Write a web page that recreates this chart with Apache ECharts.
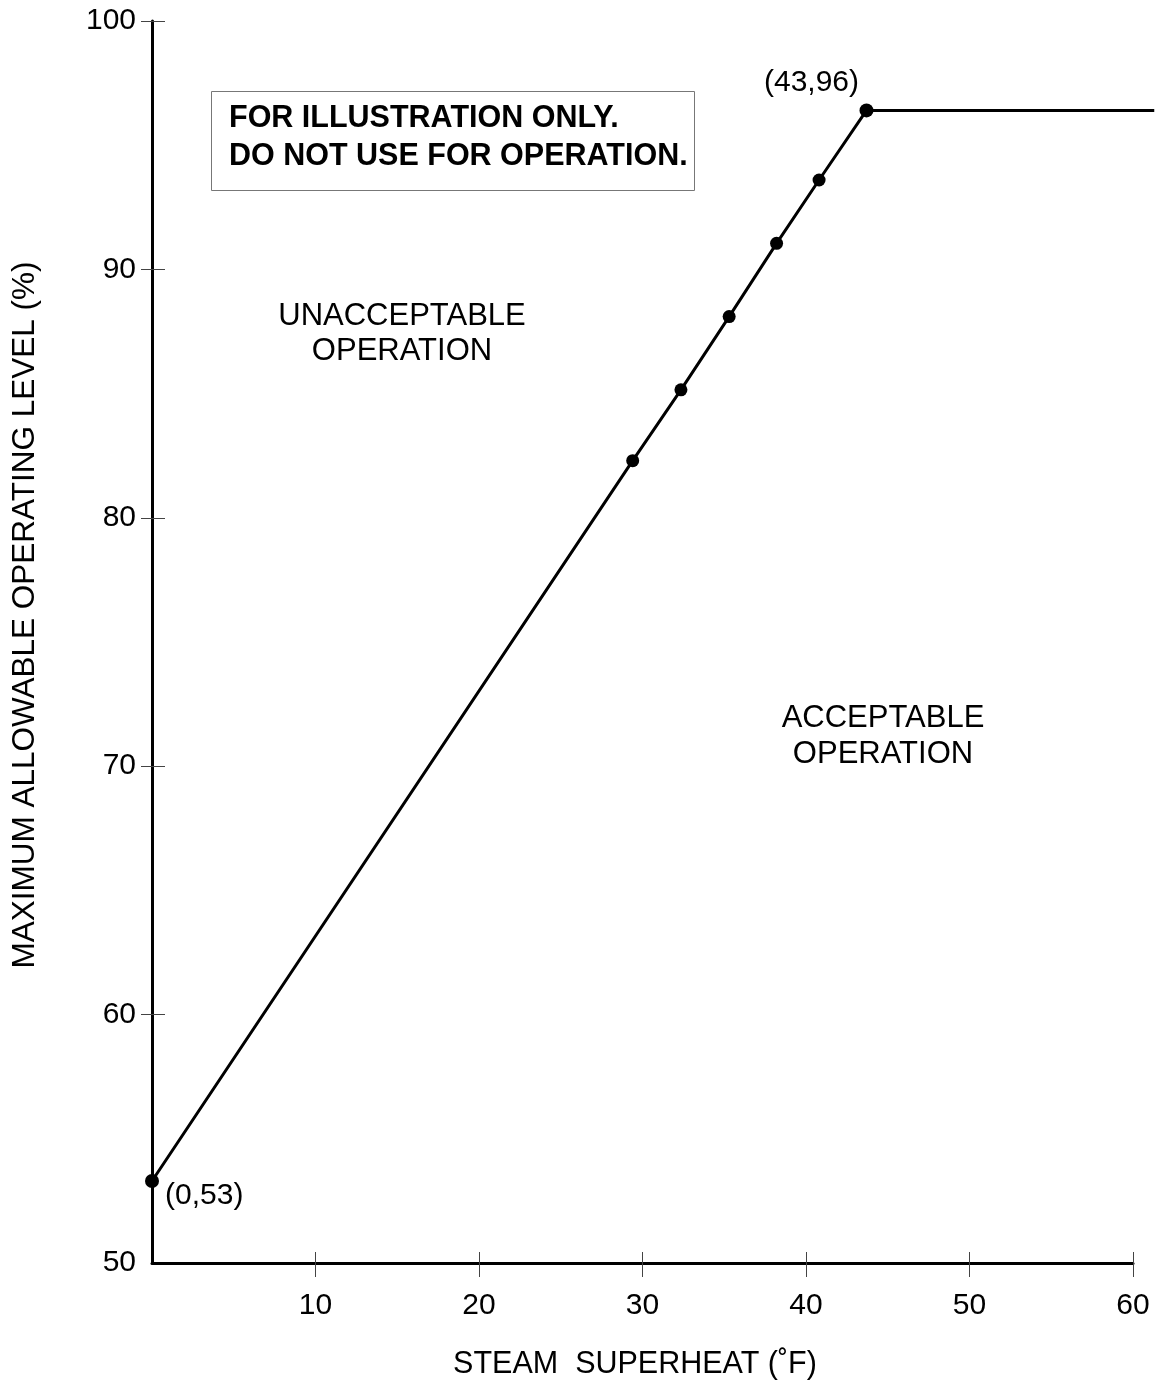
<!DOCTYPE html>
<html>
<head>
<meta charset="utf-8">
<script src="https://cdn.jsdelivr.net/npm/echarts@6/dist/echarts.min.js"></script>
<style>
html,body{margin:0;padding:0;background:#fff;}
#chart{width:1155px;height:1389px;}
</style>
</head>
<body>
<div id="chart"></div>
<script>
// Data
const superheat = [0, 29.4, 32.35, 35.3, 38.2, 40.8, 43.7, 61.3];
const level = [53.3, 82.3, 85.15, 88.1, 91.05, 93.6, 96.4, 96.4];
const pointLabels = ['(0,53)', '', '', '', '', '', '(43,96)', ''];
const xTicks = [0, 10, 20, 30, 40, 50, 60];
const yTicks = [50, 60, 70, 80, 90, 100];
const xTitle = 'STEAM  SUPERHEAT (\u02DAF)';
const yTitle = 'MAXIMUM ALLOWABLE OPERATING LEVEL (%)';
const noteLines = ['FOR ILLUSTRATION ONLY.', 'DO NOT USE FOR OPERATION.'];
const regionUnacceptable = ['UNACCEPTABLE', 'OPERATION'];
const regionAcceptable = ['ACCEPTABLE', 'OPERATION'];

const FONT = '"Liberation Sans", Arial, sans-serif';
const chart = echarts.init(document.getElementById('chart'));

// layout
const GL = 152, GR = 22, GT = 21, GB = 126, W = 1155;
const xMin = xTicks[0], xMax = xTicks[xTicks.length - 1];
const yMin = yTicks[0], yMax = yTicks[yTicks.length - 1];
// second (hidden) grid spans to the page edge with the same scale, so the plateau line runs off the plot
const xMaxWide = xMax * (W - GL) / (W - GR - GL);

const seriesData = superheat.map((x, i) => {
  const item = { value: [x, level[i]] };
  if (i === superheat.length - 1) item.symbol = 'none';
  if (i === 0 || i === superheat.length - 2) item.symbolSize = 14;
  if (pointLabels[i]) {
    item.label = i === 0
      ? { show: true, formatter: pointLabels[i], position: 'right', offset: [1, 15] }
      : { show: true, formatter: pointLabels[i], position: 'top', offset: [-55, -1] };
  }
  return item;
});

const xTickVals = xTicks.filter(v => v !== xMin);
const yTickVals = yTicks.filter(v => v !== yMin);

const baseX = {
  type: 'value', min: xMin, max: xMax, interval: 10, position: 'bottom',
  splitLine: { show: false }
};
const baseY = {
  type: 'value', min: yMin, max: yMax, interval: 10, position: 'left',
  splitLine: { show: false }
};

chart.setOption({
  animation: false,
  backgroundColor: '#fff',
  grid: [
    { left: GL, right: GR, top: GT, bottom: GB },
    { left: GL, right: 0, top: GT, bottom: GB }
  ],
  xAxis: [
    Object.assign({}, baseX, {
      axisLine: { show: true, onZero: false, lineStyle: { color: '#000', width: 3 } },
      axisTick: { show: true, inside: false, length: 14, customValues: xTickVals, lineStyle: { color: '#444', width: 1 } },
      axisLabel: { show: true, margin: 28, fontFamily: FONT, fontSize: 30, color: '#000', customValues: xTickVals }
    }),
    Object.assign({}, baseX, {
      axisLine: { show: false, onZero: false },
      axisTick: { show: true, inside: true, length: 11, customValues: xTickVals, lineStyle: { color: '#444', width: 1 } },
      axisLabel: { show: false }
    }),
    { type: 'value', gridIndex: 1, min: xMin, max: xMaxWide, show: false }
  ],
  yAxis: [
    Object.assign({}, baseY, {
      axisLine: { show: true, onZero: false, lineStyle: { color: '#000', width: 3 } },
      axisTick: { show: true, inside: false, length: 11, customValues: yTickVals, lineStyle: { color: '#444', width: 1 } },
      axisLabel: { show: true, margin: 16, fontFamily: FONT, fontSize: 30, color: '#000' }
    }),
    Object.assign({}, baseY, {
      axisLine: { show: false, onZero: false },
      axisTick: { show: true, inside: true, length: 13, customValues: yTickVals, lineStyle: { color: '#444', width: 1 } },
      axisLabel: { show: false }
    }),
    { type: 'value', gridIndex: 1, min: yMin, max: yMax, show: false }
  ],
  series: [{
    type: 'line',
    xAxisIndex: 2, yAxisIndex: 2,
    data: seriesData,
    symbol: 'circle',
    symbolSize: 13,
    itemStyle: { color: '#000' },
    lineStyle: { color: '#000', width: 3 },
    label: { fontFamily: FONT, fontSize: 30, color: '#000' },
    z: 5
  }],
  graphic: [
    { type: 'rect', shape: { x: 211.5, y: 91.5, width: 483, height: 99 },
      style: { fill: '#fff', stroke: '#777', lineWidth: 1 }, z: 10 },
    { type: 'text', x: 229, y: 119, z: 11,
      style: { text: noteLines[0], font: 'bold 30.5px ' + FONT, fill: '#000', textVerticalAlign: 'middle', textAlign: 'left' } },
    { type: 'text', x: 229, y: 157, z: 11,
      style: { text: noteLines[1], font: 'bold 30.5px ' + FONT, fill: '#000', textVerticalAlign: 'middle', textAlign: 'left' } },
    { type: 'text', x: 402, y: 316, z: 11,
      style: { text: regionUnacceptable[0], font: '31px ' + FONT, fill: '#000', textVerticalAlign: 'middle', textAlign: 'center' } },
    { type: 'text', x: 402, y: 351, z: 11,
      style: { text: regionUnacceptable[1], font: '31px ' + FONT, fill: '#000', textVerticalAlign: 'middle', textAlign: 'center' } },
    { type: 'text', x: 883, y: 718, z: 11,
      style: { text: regionAcceptable[0], font: '31px ' + FONT, fill: '#000', textVerticalAlign: 'middle', textAlign: 'center' } },
    { type: 'text', x: 883, y: 754, z: 11,
      style: { text: regionAcceptable[1], font: '31px ' + FONT, fill: '#000', textVerticalAlign: 'middle', textAlign: 'center' } },
    { type: 'text', x: 635, y: 1365, z: 11,
      style: { text: xTitle, font: '30.5px ' + FONT, fill: '#000', textVerticalAlign: 'middle', textAlign: 'center' } },
    { type: 'text', x: 25, y: 615, rotation: Math.PI / 2, z: 11,
      style: { text: yTitle, font: '31.5px ' + FONT, fill: '#000', textVerticalAlign: 'middle', textAlign: 'center' } }
  ]
});
</script>
</body>
</html>
